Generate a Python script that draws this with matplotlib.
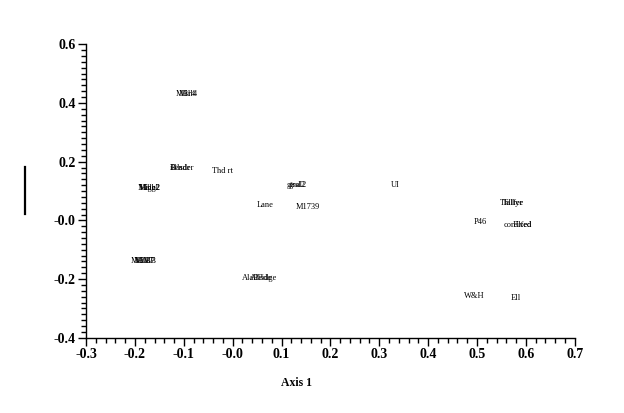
import matplotlib
matplotlib.use("Agg")
import matplotlib.pyplot as plt
from matplotlib.ticker import MultipleLocator, FuncFormatter
from matplotlib.lines import Line2D

labels = ["MBr4", "Mill4", "iBlsdr", "Bender", "Thd rt",
          "MIhgl", "Male2", "High2", "MBM7", "Mill7", "M3BB",
          "AlaBridge", "AlBde", "gtsal2", "grsl2", "UI", "Lane", "M1739",
          "Thllfer", "Tallye", "P46", "cordlfed", "Fixed", "W&H", "Ell"]
axis1 = [-0.095, -0.090, -0.108, -0.104, -0.020,
         -0.173, -0.170, -0.168, -0.184, -0.181, -0.180,
         0.054, 0.058, 0.130, 0.132, 0.332, 0.066, 0.154,
         0.571, 0.575, 0.506, 0.584, 0.592, 0.495, 0.579]
axis2 = [0.43, 0.43, 0.178, 0.178, 0.168,
         0.110, 0.110, 0.110, -0.138, -0.138, -0.138,
         -0.196, -0.196, 0.120, 0.120, 0.120, 0.052, 0.045,
         0.059, 0.059, -0.005, -0.016, -0.016, -0.257, -0.264]

fig = plt.figure(figsize=(6.24, 4.13), dpi=100)
ax = fig.add_axes([0.138, 0.182, 0.783, 0.711])
ax.set_xlim(-0.3, 0.7)
ax.set_ylim(-0.4, 0.6)

for lab, x, y in zip(labels, axis1, axis2):
    ax.text(x, y, lab, ha="center", va="center", fontsize=6,
            family="Liberation Serif", color="black")

for s in ["top", "right"]:
    ax.spines[s].set_visible(False)
for s in ["left", "bottom"]:
    ax.spines[s].set_linewidth(1.0)

ax.xaxis.set_major_locator(MultipleLocator(0.1))
ax.xaxis.set_minor_locator(MultipleLocator(0.02))
ax.yaxis.set_major_locator(MultipleLocator(0.2))
ax.yaxis.set_minor_locator(MultipleLocator(0.02))
fmt = FuncFormatter(lambda v, p: ("-0.0" if abs(v) < 1e-9 else f"{v:.1f}"))
ax.xaxis.set_major_formatter(fmt)
ax.yaxis.set_major_formatter(fmt)
ax.tick_params(which="major", direction="out", length=6, width=1, pad=1.5)
ax.tick_params(which="minor", direction="out", length=3.5, width=1)
for t in ax.get_xticklabels() + ax.get_yticklabels():
    t.set_family("Liberation Serif")
    t.set_fontweight("bold")
    t.set_fontsize(10)

ax.set_xlabel("Axis 1", family="Liberation Serif", fontweight="bold",
              fontsize=8.5, labelpad=14)
ax.xaxis.set_label_coords(0.43, -0.135)

fig.add_artist(Line2D([25 / 624, 25 / 624], [1 - 167 / 413, 1 - 214 / 413],
                      color="black", lw=1.6, transform=fig.transFigure))

fig.savefig("out.png", dpi=100, facecolor="white")
